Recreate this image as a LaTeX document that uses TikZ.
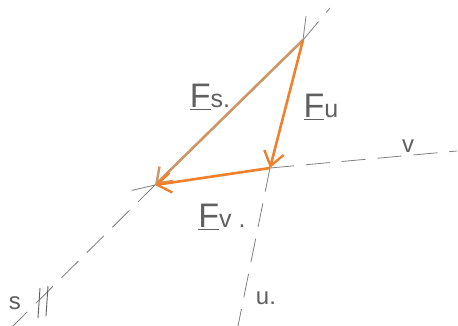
\documentclass[tikz,border=0pt]{standalone}
\usepackage{fontspec}
\setmainfont{Liberation Sans}
\usetikzlibrary{arrows.meta}
\definecolor{pencil}{RGB}{95,95,95}
\definecolor{fsbrown}{RGB}{205,150,100}
\definecolor{forange}{RGB}{240,128,45}
\tikzset{
  axis/.style={draw=pencil!80, line width=0.8pt, dash pattern=on 24pt off 12pt},
  force/.style={line width=2.6pt, -{Straight Barb[length=14pt,width=20pt,line width=2.4pt]}},
  lbl/.style={text=pencil, inner sep=0pt},
  tick/.style={draw=pencil, line width=0.9pt}
}
\newcommand{\vecF}[1]{{\fontsize{34}{34}\selectfont\underline{F}}{\fontsize{25}{25}\selectfont #1}}
\begin{document}
\begin{tikzpicture}[x=1pt,y=-1pt]
\useasboundingbox (0,0) rectangle (458,326);
% points
\coordinate (A) at (303,40);
\coordinate (B) at (270,168);
\coordinate (C) at (155,185);
\coordinate (sTop) at (330,8);
\coordinate (sBot) at (13,326);
\coordinate (uTop) at (307,8);
\coordinate (uBot) at (238,326);
\coordinate (vLeft) at (125,192);
\coordinate (vRight) at (457,151);
% construction lines
\draw[axis] (A) -- (sTop);
\draw[axis] (C) -- (sBot);
\draw[axis] (A) -- (uTop);
\draw[axis] (B) -- (uBot);
\draw[axis] (C) -- (vLeft);
\draw[axis] (B) -- (vRight);
% ticks on s line
\coordinate (t1a) at (40,288);
\coordinate (t1b) at (38,318);
\coordinate (t2a) at (48,286);
\coordinate (t2b) at (46,316);
\draw[tick] (t1a) -- (t1b);
\draw[tick] (t2a) -- (t2b);
% forces
\draw[force, draw=fsbrown] (A) -- (C);
\draw[force, draw=forange] (A) -- (B);
\draw[force, draw=forange] (B) -- (C);
% labels
\node[lbl] (Ls) at (210,97) {\vecF{s.}};
\node[lbl] (Lu) at (321,107) {\vecF{u}};
\node[lbl] (Lv) at (222,217) {\vecF{v .}};
\node[lbl, font=\fontsize{24}{24}\selectfont] (lv) at (408,146) {v};
\node[lbl, font=\fontsize{24}{24}\selectfont] (lu) at (266,298) {u.};
\node[lbl, font=\fontsize{24}{24}\selectfont] (ls) at (15,303) {s};
\end{tikzpicture}
\end{document}
